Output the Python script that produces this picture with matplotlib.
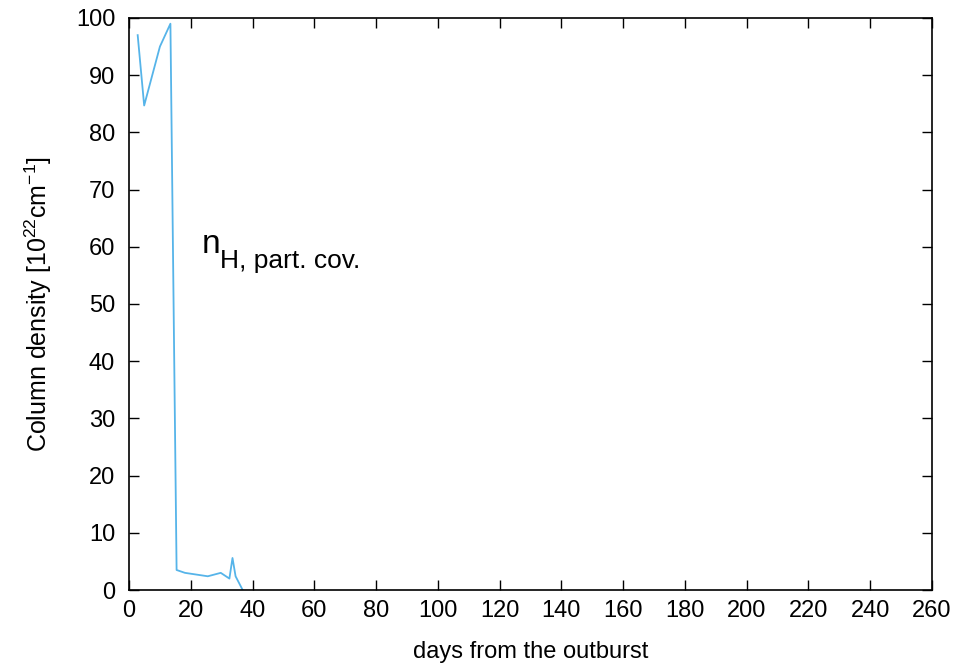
import matplotlib
matplotlib.use("Agg")
import matplotlib.pyplot as plt

plt.rcParams["font.family"] = ["Liberation Sans", "DejaVu Sans"]
plt.rcParams["mathtext.fontset"] = "custom"
plt.rcParams["mathtext.rm"] = "Liberation Sans"

# days from the outburst vs partial covering column density
days = [2.8, 4.9, 10.0, 13.4, 15.4, 18.1, 25.5, 29.7, 32.5, 33.5, 34.5, 36.7]
nh_pc = [97.0, 84.7, 95.0, 99.0, 3.5, 3.0, 2.4, 3.0, 2.0, 5.6, 2.4, 0.1]

xticks = list(range(0, 261, 20))
yticks = list(range(0, 101, 10))

fig = plt.figure(figsize=(9.79, 6.66), dpi=100)
ax = fig.add_axes([0.1318, 0.1141, 0.952 - 0.1318, 0.973 - 0.1141])
ax.plot(days, nh_pc, color="#56b4e9", linewidth=1.3)
ax.set_xlim(0, 260)
ax.set_ylim(0, 100)
ax.set_xticks(xticks)
ax.set_yticks(yticks)
ax.tick_params(direction="in", top=True, right=True, length=7, width=1,
               labelsize=17, pad=7)
ax.tick_params(axis="y", pad=10)
for s in ax.spines.values():
    s.set_linewidth(1.2)
ax.set_xlabel("days from the outburst", fontsize=17, labelpad=14)
ax.set_ylabel(r"Column density [10$^{22}$cm$^{-1}$]", fontsize=18, labelpad=16)

# label with a big subscript, drawn as two pieces
ax.text(23.5, 59, "n", fontsize=24, ha="left", va="baseline")
ax.text(29.5, 56.3, "H, part. cov.", fontsize=19, ha="left", va="baseline")

fig.savefig("out.png", dpi=100)
